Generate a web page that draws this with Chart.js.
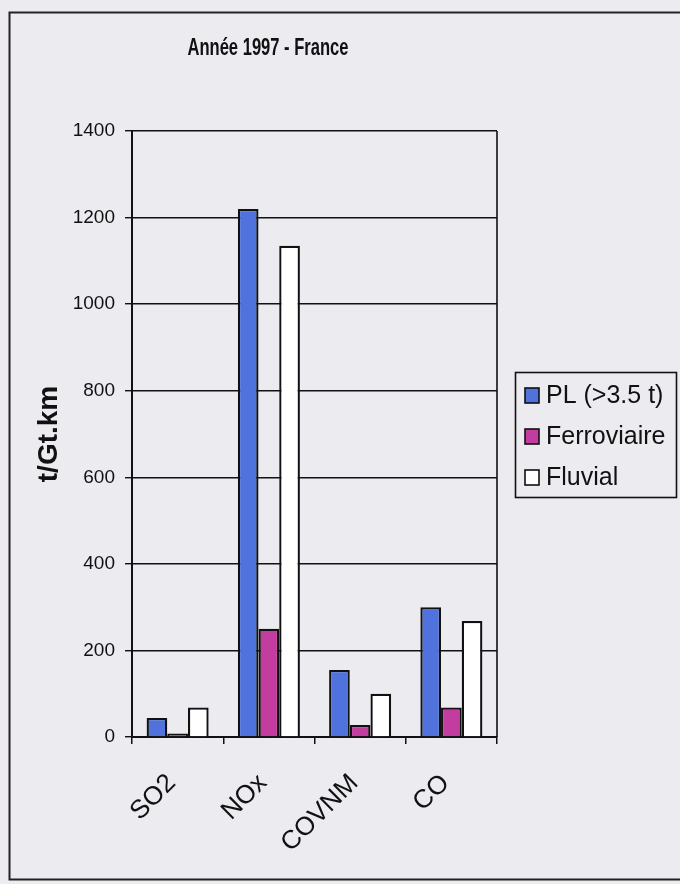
<!DOCTYPE html>
<html lang="fr">
<head>
<meta charset="utf-8">
<title>Année 1997 - France</title>
<script src="https://cdn.jsdelivr.net/npm/chart.js@4"></script>
<style>
  html, body { margin: 0; padding: 0; background: #ecebf0; }
  #wrap { width: 680px; height: 884px; position: relative; }
</style>
</head>
<body>
<div id="wrap"><canvas id="emissions"></canvas></div>
<script>
// polluants et émissions par mode de transport (t/Gt.km)
const polluants = ["SO2", "NOx", "COVNM", "CO"];
const poidsLourds = [44, 1220, 155, 300];
const ferroviaire = [8, 250, 28, 68];
const fluvial = [68, 1135, 100, 268];
const graduations = [0, 200, 400, 600, 800, 1000, 1200, 1400];

const titre = "Année 1997 - France";
const FONT = "'Liberation Sans', Arial, sans-serif";

// cadre extérieur, titre (police étroite) et bordure droite de la zone de tracé
const decor = {
  id: "decor",
  afterDraw(chart) {
    const ctx = chart.ctx;
    const a = chart.chartArea;
    ctx.save();
    ctx.strokeStyle = "#111";
    ctx.lineWidth = 1.6;
    ctx.beginPath();
    ctx.moveTo(a.right, a.top);
    ctx.lineTo(a.right, a.bottom);
    ctx.stroke();

    ctx.lineWidth = 2;
    ctx.strokeStyle = "#222";
    ctx.strokeRect(9.5, 12.5, 700, 867);

    ctx.translate(268, 49);
    ctx.scale(0.72, 1);
    ctx.fillStyle = "#111";
    ctx.font = "bold 23px " + FONT;
    ctx.textAlign = "center";
    ctx.textBaseline = "middle";
    ctx.fillText(titre, 0, 0);
    ctx.restore();
  }
};

// légende encadrée à droite du graphique
const legende = {
  id: "legende",
  afterDraw(chart) {
    const ctx = chart.ctx;
    const x = 515, y = 372, w = 161, h = 125;
    ctx.save();
    ctx.strokeStyle = "#111";
    ctx.lineWidth = 1.6;
    ctx.strokeRect(x + 0.5, y + 0.5, w, h);
    ctx.font = "25px " + FONT;
    ctx.textBaseline = "middle";
    chart.data.datasets.forEach((ds, i) => {
      const cy = 395 + i * 41;
      ctx.fillStyle = ds.backgroundColor;
      ctx.fillRect(525, cy - 7, 14, 15);
      ctx.lineWidth = 1.6;
      ctx.strokeStyle = "#111";
      ctx.strokeRect(525, cy - 7, 14, 15);
      ctx.fillStyle = "#111";
      ctx.fillText(ds.label, 546, cy + 1);
    });
    ctx.restore();
  }
};

new Chart(document.getElementById("emissions"), {
  type: "bar",
  data: {
    labels: polluants,
    datasets: [
      { label: "PL (>3.5 t)", data: poidsLourds, backgroundColor: "#4f72dd" },
      { label: "Ferroviaire", data: ferroviaire, backgroundColor: "#c23d9f" },
      { label: "Fluvial", data: fluvial, backgroundColor: "#ffffff" }
    ]
  },
  options: {
    responsive: true,
    maintainAspectRatio: false,
    animation: false,
    layout: { padding: { top: 131, left: 30, right: 183, bottom: 0 } },
    datasets: {
      bar: {
        borderColor: "#111",
        borderWidth: 2.3,
        categoryPercentage: 0.68,
        barPercentage: 1.0
      }
    },
    plugins: {
      legend: { display: false },
      title: { display: false },
      tooltip: { enabled: false }
    },
    scales: {
      x: {
        afterFit(scale) { scale.height = 147; },
        grid: { display: true, drawOnChartArea: false, offset: true, color: "#111", lineWidth: 1.5, tickLength: 7 },
        border: { color: "#111", width: 2 },
        ticks: {
          color: "#111",
          font: { family: FONT, size: 26 },
          minRotation: 45,
          maxRotation: 45,
          labelOffset: -6,
          padding: 24
        }
      },
      y: {
        min: 0,
        max: 1400,
        afterFit(scale) { scale.width = 102; },
        afterBuildTicks(scale) { scale.ticks = graduations.map(v => ({ value: v })); },
        grid: { color: "#111", lineWidth: 1.4, tickLength: 7 },
        border: { color: "#111", width: 2 },
        ticks: {
          color: "#111",
          font: { family: FONT, size: 19 },
          padding: 10,
          callback: v => String(v)
        },
        title: {
          display: true,
          text: "t/Gt.km",
          color: "#111",
          font: { family: FONT, size: 28, weight: "bold" },
          padding: { top: 2, bottom: 4 }
        }
      }
    }
  },
  plugins: [decor, legende]
});
</script>
</body>
</html>
